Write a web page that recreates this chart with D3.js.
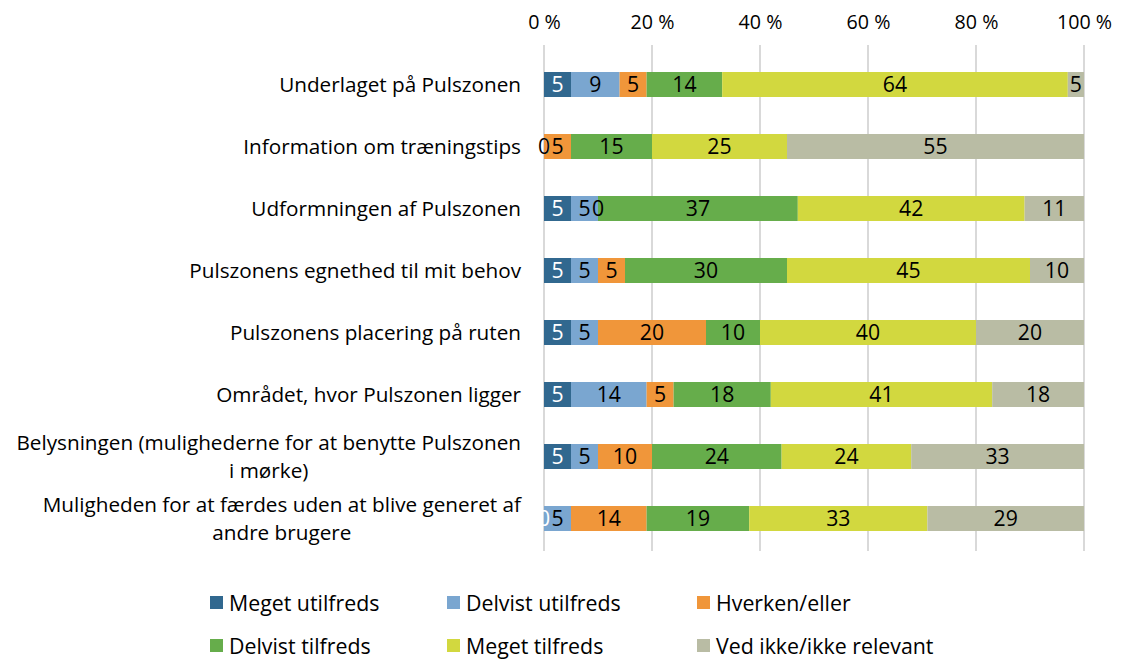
<!DOCTYPE html>
<html><head><meta charset="utf-8">
<script src="https://cdn.jsdelivr.net/npm/d3@7"></script>
<style>body{margin:0;background:#fff}svg{display:block}text{font-family:"Open Sans",sans-serif;fill:#000}</style>
</head><body><svg id="c" width="1121" height="660"></svg>
<script>
const categories = [
  ["Underlaget på Pulszonen"],
  ["Information om træningstips"],
  ["Udformningen af Pulszonen"],
  ["Pulszonens egnethed til mit behov"],
  ["Pulszonens placering på ruten"],
  ["Området, hvor Pulszonen ligger"],
  ["Belysningen (mulighederne for at benytte Pulszonen", "i mørke)"],
  ["Muligheden for at færdes uden at blive generet af", "andre brugere"]
];
const seriesNames = ["Meget utilfreds","Delvist utilfreds","Hverken/eller","Delvist tilfreds","Meget tilfreds","Ved ikke/ikke relevant"];
const megetUtilfreds   = [5, 0, 5, 5, 5, 5, 5, 0];
const delvistUtilfreds = [9, 0, 5, 5, 5, 14, 5, 5];
const hverkenEller     = [5, 5, 0, 5, 20, 5, 10, 14];
const delvistTilfreds  = [14, 15, 37, 30, 10, 18, 24, 19];
const megetTilfreds    = [64, 25, 42, 45, 40, 41, 24, 33];
const vedIkke          = [5, 55, 11, 10, 20, 18, 33, 29];
const tickValues = [0, 20, 40, 60, 80, 100];
const colors = ["#31688f","#7aa6d0","#f0963a","#66ad4b","#d2d83f","#b9bca4"];
const labelColors = ["#fff","#000","#000","#000","#000","#000"];

const seriesVals = [megetUtilfreds, delvistUtilfreds, hverkenEller, delvistTilfreds, megetTilfreds, vedIkke];
const rows = categories.map((c,i)=>{const o={idx:i}; seriesNames.forEach((s,j)=>o[s]=seriesVals[j][i]); return o;});
const stack = d3.stack().keys(seriesNames)(rows);

const svg = d3.select("#c");
const probe = svg.append("text").attr("font-size",20).text("Underlaget på Pulszonen");
const k = 242 / probe.node().getComputedTextLength();
probe.remove();
const fs = v => v*k;

const x = d3.scaleLinear().domain([0,100]).range([544,1084]).clamp(true);

svg.append("g").selectAll("line").data(tickValues).join("line")
  .attr("x1",d=>x(d)).attr("x2",d=>x(d)).attr("y1",45).attr("y2",551)
  .attr("stroke","#d9d9d9").attr("stroke-width",2);

const axis = d3.axisTop(x).tickValues(tickValues).tickFormat(d=>d+" %").tickSize(0).tickPadding(0);
const ag = svg.append("g").attr("transform","translate(0,29)").call(axis);
ag.select(".domain").remove();
ag.selectAll("text").style("font-family","'Open Sans',sans-serif").attr("font-size",fs(19)).attr("fill","#000");

const band = 62, barH = 25;
const yc = i => 53.5 + band*i + band/2;
stack.forEach((s,j)=>{
  svg.append("g").selectAll("rect").data(s).join("rect")
    .attr("x",d=>x(d[0])).attr("width",d=>Math.max(0,x(d[1])-x(d[0])))
    .attr("y",(d,i)=>yc(i)-barH/2).attr("height",barH).attr("fill",colors[j]);
});
stack.forEach((s,j)=>{
  svg.append("g").selectAll("text").data(s).join("text")
    .attr("x",d=>(x(d[0])+x(d[1]))/2).attr("y",(d,i)=>yc(i))
    .attr("dy","0.36em").attr("text-anchor","middle").attr("font-size",fs(20.5))
    .style("fill",labelColors[j])
    .text(d=>d.data[seriesNames[j]]);
});

categories.forEach((lines,i)=>{
  const gg = svg.append("g");
  const lh = 28;
  const t = lines.map((ln,kk)=>gg.append("text").attr("font-size",fs(20))
      .attr("y", yc(i) + (kk-(lines.length-1)/2)*lh).attr("dy","0.36em").text(ln));
  const maxW = d3.max(t,tt=>tt.node().getComputedTextLength());
  t.forEach(tt=>tt.attr("x",521-maxW/2).attr("text-anchor","middle"));
});

const legX = [210,447,697], legY=[603,646];
seriesNames.forEach((s,j)=>{
  const lx = legX[j%3], ly = legY[Math.floor(j/3)];
  svg.append("rect").attr("x",lx).attr("y",ly-7).attr("width",13).attr("height",13).attr("fill",colors[j]);
  svg.append("text").attr("x",lx+19).attr("y",ly).attr("dy","0.36em").attr("font-size",fs(20.6)).text(s);
});
</script></body></html>
